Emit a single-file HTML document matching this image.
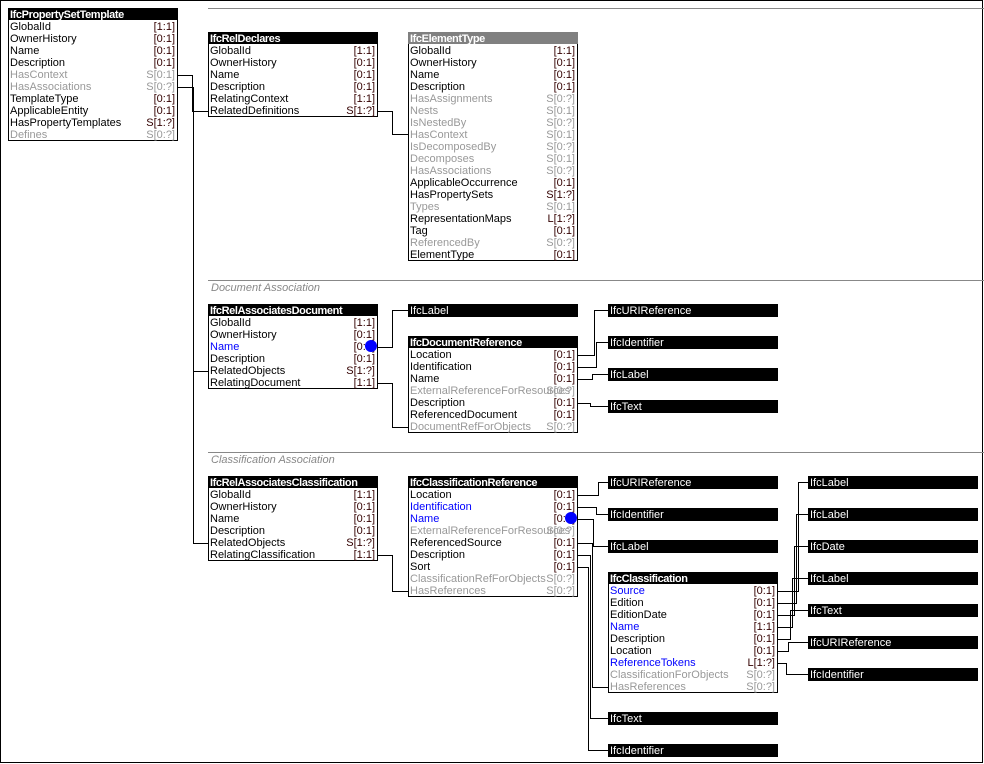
<!DOCTYPE html>
<html><head><meta charset="utf-8"><style>
html,body{margin:0;padding:0;background:#fff}
svg{display:block}
text{font-family:"Liberation Sans",Arial,sans-serif;font-size:11px}
.h{fill:#fff;font-weight:bold;letter-spacing:-0.4px}
.n{fill:#000}.c{fill:#300;text-anchor:end}
.g{fill:#999}.gc{fill:#999;text-anchor:end}
.b{fill:#00f}
.w{fill:#fff}
.lab{fill:#888;font-style:italic}
</style></head><body>
<svg width="984" height="764" viewBox="0 0 984 764" xmlns="http://www.w3.org/2000/svg">
<rect x="0.5" y="0.5" width="982" height="762" fill="#fff" stroke="#000"/>
<g stroke="#888" stroke-width="1">
<line x1="208" y1="8.5" x2="984" y2="8.5"/>
<line x1="208" y1="280.5" x2="984" y2="280.5"/>
<line x1="208" y1="452.5" x2="984" y2="452.5"/>
</g>
<text x="211" y="291" class="lab">Document Association</text>
<text x="211" y="463" class="lab">Classification Association</text>

<!-- connectors -->
<g fill="none" stroke="#000" stroke-width="1">
<polyline points="177,75.5 192.5,75.5 192.5,111.5 208,111.5"/>
<polyline points="177,87.5 193.5,87.5 193.5,543.5 208,543.5"/>
<polyline points="193.5,371.5 208,371.5"/>
<polyline points="377,111.5 392.5,111.5 392.5,134.5 408,134.5"/>
<polyline points="377,347.5 392.5,347.5 392.5,310.5 408,310.5"/>
<polyline points="377,383.5 392.5,383.5 392.5,427.5 408,427.5"/>
<polyline points="577,355.5 594.5,355.5 594.5,310.5 608,310.5"/>
<polyline points="577,367.5 596.5,367.5 596.5,342.5 608,342.5"/>
<polyline points="577,379.5 592.5,379.5 592.5,374.5 608,374.5"/>
<polyline points="577,403.5 590.5,403.5 590.5,406.5 608,406.5"/>
<polyline points="377,555.5 392.5,555.5 392.5,591.5 408,591.5"/>
<polyline points="577,495.5 598.5,495.5 598.5,482.5 608,482.5"/>
<polyline points="577,507.5 596.5,507.5 596.5,514.5 608,514.5"/>
<polyline points="577,519.5 593.5,519.5 593.5,546.5 608,546.5"/>
<polyline points="577,543.5 592.5,543.5 592.5,687.5 608,687.5"/>
<polyline points="577,555.5 590.5,555.5 590.5,718.5 608,718.5"/>
<polyline points="577,567.5 588.5,567.5 588.5,750.5 608,750.5"/>
<polyline points="777,591.5 798.5,591.5 798.5,482.5 808,482.5"/>
<polyline points="777,603.5 796.5,603.5 796.5,514.5 808,514.5"/>
<polyline points="777,615.5 794.5,615.5 794.5,546.5 808,546.5"/>
<polyline points="777,627.5 792.5,627.5 792.5,578.5 808,578.5"/>
<polyline points="777,639.5 790.5,639.5 790.5,610.5 808,610.5"/>
<polyline points="777,651.5 788.5,651.5 788.5,642.5 808,642.5"/>
<polyline points="777,663.5 786.5,663.5 786.5,674.5 808,674.5"/>
</g>

<!-- IfcPropertySetTemplate -->
<rect x="8.5" y="8.5" width="169" height="132" fill="#fff" stroke="#000"/>
<rect x="8" y="8" width="170" height="12" fill="#000"/>
<text x="10" y="18" class="h">IfcPropertySetTemplate</text>
<text x="10" y="30" class="n">GlobalId</text><text x="175" y="30" class="c">[1:1]</text>
<text x="10" y="42" class="n">OwnerHistory</text><text x="175" y="42" class="c">[0:1]</text>
<text x="10" y="54" class="n">Name</text><text x="175" y="54" class="c">[0:1]</text>
<text x="10" y="66" class="n">Description</text><text x="175" y="66" class="c">[0:1]</text>
<text x="10" y="78" class="g">HasContext</text><text x="175" y="78" class="gc">S[0:1]</text>
<text x="10" y="90" class="g">HasAssociations</text><text x="175" y="90" class="gc">S[0:?]</text>
<text x="10" y="102" class="n">TemplateType</text><text x="175" y="102" class="c">[0:1]</text>
<text x="10" y="114" class="n">ApplicableEntity</text><text x="175" y="114" class="c">[0:1]</text>
<text x="10" y="126" class="n">HasPropertyTemplates</text><text x="175" y="126" class="c">S[1:?]</text>
<text x="10" y="138" class="g">Defines</text><text x="175" y="138" class="gc">S[0:?]</text>

<!-- IfcRelDeclares -->
<rect x="208.5" y="32.5" width="169" height="84" fill="#fff" stroke="#000"/>
<rect x="208" y="32" width="170" height="12" fill="#000"/>
<text x="210" y="42" class="h">IfcRelDeclares</text>
<text x="210" y="54" class="n">GlobalId</text><text x="375" y="54" class="c">[1:1]</text>
<text x="210" y="66" class="n">OwnerHistory</text><text x="375" y="66" class="c">[0:1]</text>
<text x="210" y="78" class="n">Name</text><text x="375" y="78" class="c">[0:1]</text>
<text x="210" y="90" class="n">Description</text><text x="375" y="90" class="c">[0:1]</text>
<text x="210" y="102" class="n">RelatingContext</text><text x="375" y="102" class="c">[1:1]</text>
<text x="210" y="114" class="n">RelatedDefinitions</text><text x="375" y="114" class="c">S[1:?]</text>

<!-- IfcElementType -->
<rect x="408.5" y="32.5" width="169" height="228" fill="#fff" stroke="#000"/>
<rect x="408" y="32" width="170" height="12" fill="#808080"/>
<text x="410" y="42" class="h">IfcElementType</text>
<text x="410" y="54" class="n">GlobalId</text><text x="575" y="54" class="c">[1:1]</text>
<text x="410" y="66" class="n">OwnerHistory</text><text x="575" y="66" class="c">[0:1]</text>
<text x="410" y="78" class="n">Name</text><text x="575" y="78" class="c">[0:1]</text>
<text x="410" y="90" class="n">Description</text><text x="575" y="90" class="c">[0:1]</text>
<text x="410" y="102" class="g">HasAssignments</text><text x="575" y="102" class="gc">S[0:?]</text>
<text x="410" y="114" class="g">Nests</text><text x="575" y="114" class="gc">S[0:1]</text>
<text x="410" y="126" class="g">IsNestedBy</text><text x="575" y="126" class="gc">S[0:?]</text>
<text x="410" y="138" class="g">HasContext</text><text x="575" y="138" class="gc">S[0:1]</text>
<text x="410" y="150" class="g">IsDecomposedBy</text><text x="575" y="150" class="gc">S[0:?]</text>
<text x="410" y="162" class="g">Decomposes</text><text x="575" y="162" class="gc">S[0:1]</text>
<text x="410" y="174" class="g">HasAssociations</text><text x="575" y="174" class="gc">S[0:?]</text>
<text x="410" y="186" class="n">ApplicableOccurrence</text><text x="575" y="186" class="c">[0:1]</text>
<text x="410" y="198" class="n">HasPropertySets</text><text x="575" y="198" class="c">S[1:?]</text>
<text x="410" y="210" class="g">Types</text><text x="575" y="210" class="gc">S[0:1]</text>
<text x="410" y="222" class="n">RepresentationMaps</text><text x="575" y="222" class="c">L[1:?]</text>
<text x="410" y="234" class="n">Tag</text><text x="575" y="234" class="c">[0:1]</text>
<text x="410" y="246" class="g">ReferencedBy</text><text x="575" y="246" class="gc">S[0:?]</text>
<text x="410" y="258" class="n">ElementType</text><text x="575" y="258" class="c">[0:1]</text>

<!-- IfcRelAssociatesDocument -->
<rect x="208.5" y="304.5" width="169" height="84" fill="#fff" stroke="#000"/>
<rect x="208" y="304" width="170" height="12" fill="#000"/>
<text x="210" y="314" class="h">IfcRelAssociatesDocument</text>
<text x="210" y="326" class="n">GlobalId</text><text x="375" y="326" class="c">[1:1]</text>
<text x="210" y="338" class="n">OwnerHistory</text><text x="375" y="338" class="c">[0:1]</text>
<text x="210" y="350" class="b">Name</text><text x="375" y="350" class="c">[0:1]</text>
<circle cx="371" cy="346" r="6" fill="#00f"/>
<text x="210" y="362" class="n">Description</text><text x="375" y="362" class="c">[0:1]</text>
<text x="210" y="374" class="n">RelatedObjects</text><text x="375" y="374" class="c">S[1:?]</text>
<text x="210" y="386" class="n">RelatingDocument</text><text x="375" y="386" class="c">[1:1]</text>

<rect x="408" y="304" width="170" height="13" fill="#000"/><text x="410" y="314" class="w">IfcLabel</text>

<!-- IfcDocumentReference -->
<rect x="408.5" y="336.5" width="169" height="96" fill="#fff" stroke="#000"/>
<rect x="408" y="336" width="170" height="12" fill="#000"/>
<text x="410" y="346" class="h">IfcDocumentReference</text>
<text x="410" y="358" class="n">Location</text><text x="575" y="358" class="c">[0:1]</text>
<text x="410" y="370" class="n">Identification</text><text x="575" y="370" class="c">[0:1]</text>
<text x="410" y="382" class="n">Name</text><text x="575" y="382" class="c">[0:1]</text>
<text x="410" y="394" class="g">ExternalReferenceForResources</text><text x="575" y="394" class="gc">S[0:?]</text>
<text x="410" y="406" class="n">Description</text><text x="575" y="406" class="c">[0:1]</text>
<text x="410" y="418" class="n">ReferencedDocument</text><text x="575" y="418" class="c">[0:1]</text>
<text x="410" y="430" class="g">DocumentRefForObjects</text><text x="575" y="430" class="gc">S[0:?]</text>

<rect x="608" y="304" width="170" height="13" fill="#000"/><text x="610" y="314" class="w">IfcURIReference</text>
<rect x="608" y="336" width="170" height="13" fill="#000"/><text x="610" y="346" class="w">IfcIdentifier</text>
<rect x="608" y="368" width="170" height="13" fill="#000"/><text x="610" y="378" class="w">IfcLabel</text>
<rect x="608" y="400" width="170" height="13" fill="#000"/><text x="610" y="410" class="w">IfcText</text>

<!-- IfcRelAssociatesClassification -->
<rect x="208.5" y="476.5" width="169" height="84" fill="#fff" stroke="#000"/>
<rect x="208" y="476" width="170" height="12" fill="#000"/>
<text x="210" y="486" class="h">IfcRelAssociatesClassification</text>
<text x="210" y="498" class="n">GlobalId</text><text x="375" y="498" class="c">[1:1]</text>
<text x="210" y="510" class="n">OwnerHistory</text><text x="375" y="510" class="c">[0:1]</text>
<text x="210" y="522" class="n">Name</text><text x="375" y="522" class="c">[0:1]</text>
<text x="210" y="534" class="n">Description</text><text x="375" y="534" class="c">[0:1]</text>
<text x="210" y="546" class="n">RelatedObjects</text><text x="375" y="546" class="c">S[1:?]</text>
<text x="210" y="558" class="n">RelatingClassification</text><text x="375" y="558" class="c">[1:1]</text>

<!-- IfcClassificationReference -->
<rect x="408.5" y="476.5" width="169" height="120" fill="#fff" stroke="#000"/>
<rect x="408" y="476" width="170" height="12" fill="#000"/>
<text x="410" y="486" class="h">IfcClassificationReference</text>
<text x="410" y="498" class="n">Location</text><text x="575" y="498" class="c">[0:1]</text>
<text x="410" y="510" class="b">Identification</text><text x="575" y="510" class="c">[0:1]</text>
<text x="410" y="522" class="b">Name</text><text x="575" y="522" class="c">[0:1]</text>
<circle cx="571" cy="518" r="6" fill="#00f"/>
<text x="410" y="534" class="g">ExternalReferenceForResources</text><text x="575" y="534" class="gc">S[0:?]</text>
<text x="410" y="546" class="n">ReferencedSource</text><text x="575" y="546" class="c">[0:1]</text>
<text x="410" y="558" class="n">Description</text><text x="575" y="558" class="c">[0:1]</text>
<text x="410" y="570" class="n">Sort</text><text x="575" y="570" class="c">[0:1]</text>
<text x="410" y="582" class="g">ClassificationRefForObjects</text><text x="575" y="582" class="gc">S[0:?]</text>
<text x="410" y="594" class="g">HasReferences</text><text x="575" y="594" class="gc">S[0:?]</text>

<rect x="608" y="476" width="170" height="13" fill="#000"/><text x="610" y="486" class="w">IfcURIReference</text>
<rect x="608" y="508" width="170" height="13" fill="#000"/><text x="610" y="518" class="w">IfcIdentifier</text>
<rect x="608" y="540" width="170" height="13" fill="#000"/><text x="610" y="550" class="w">IfcLabel</text>

<!-- IfcClassification -->
<rect x="608.5" y="572.5" width="169" height="120" fill="#fff" stroke="#000"/>
<rect x="608" y="572" width="170" height="12" fill="#000"/>
<text x="610" y="582" class="h">IfcClassification</text>
<text x="610" y="594" class="b">Source</text><text x="775" y="594" class="c">[0:1]</text>
<text x="610" y="606" class="n">Edition</text><text x="775" y="606" class="c">[0:1]</text>
<text x="610" y="618" class="n">EditionDate</text><text x="775" y="618" class="c">[0:1]</text>
<text x="610" y="630" class="b">Name</text><text x="775" y="630" class="c">[1:1]</text>
<text x="610" y="642" class="n">Description</text><text x="775" y="642" class="c">[0:1]</text>
<text x="610" y="654" class="n">Location</text><text x="775" y="654" class="c">[0:1]</text>
<text x="610" y="666" class="b">ReferenceTokens</text><text x="775" y="666" class="c">L[1:?]</text>
<text x="610" y="678" class="g">ClassificationForObjects</text><text x="775" y="678" class="gc">S[0:?]</text>
<text x="610" y="690" class="g">HasReferences</text><text x="775" y="690" class="gc">S[0:?]</text>

<rect x="608" y="712" width="170" height="13" fill="#000"/><text x="610" y="722" class="w">IfcText</text>
<rect x="608" y="744" width="170" height="13" fill="#000"/><text x="610" y="754" class="w">IfcIdentifier</text>

<rect x="808" y="476" width="170" height="13" fill="#000"/><text x="810" y="486" class="w">IfcLabel</text>
<rect x="808" y="508" width="170" height="13" fill="#000"/><text x="810" y="518" class="w">IfcLabel</text>
<rect x="808" y="540" width="170" height="13" fill="#000"/><text x="810" y="550" class="w">IfcDate</text>
<rect x="808" y="572" width="170" height="13" fill="#000"/><text x="810" y="582" class="w">IfcLabel</text>
<rect x="808" y="604" width="170" height="13" fill="#000"/><text x="810" y="614" class="w">IfcText</text>
<rect x="808" y="636" width="170" height="13" fill="#000"/><text x="810" y="646" class="w">IfcURIReference</text>
<rect x="808" y="668" width="170" height="13" fill="#000"/><text x="810" y="678" class="w">IfcIdentifier</text>
</svg>
</body></html>
